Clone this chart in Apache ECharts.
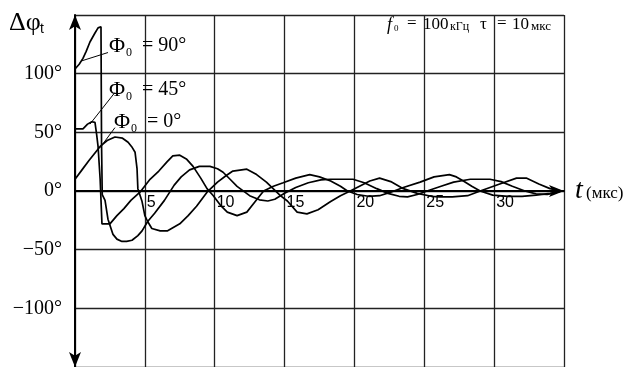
<!DOCTYPE html>
<html><head><meta charset="utf-8">
<script src="https://cdn.jsdelivr.net/npm/echarts@6/dist/echarts.min.js"></script>
<style>html,body{margin:0;padding:0;background:#fff}#c{width:637px;height:367px}</style>
</head><body><div id="c"></div>
<script>
// ---- data (t in мкс, Δφ in degrees) ----
const xTickLabels = [5, 10, 15, 20, 25, 30];
const yTickLabels = [-100, -50, 0, 50, 100];
const seriesNames = ['Φ0 = 90°', 'Φ0 = 45°', 'Φ0 = 0°'];

const phi90 = [
  [0,104],[0.3,108],[0.57,113],[0.8,119],[1.07,127],[1.4,134],[1.65,139],[1.86,140],
  [1.9,40],[1.95,-3],[2.15,-8],[2.36,-24],[2.72,-37],[3.0,-41],[3.36,-43],[3.7,-43],
  [4.08,-42],[4.5,-38],[4.8,-34],[5.2,-26],[5.7,-19],[6.4,-8],[7.1,5],[7.6,12],
  [8.2,18],[8.9,21],[9.66,21],[10.2,19],[10.6,16],[11.1,10],[11.6,4],[12.5,-4],
  [13.2,-7.5],[13.8,-8.5],[14.3,-7],[15.0,-2],[15.8,3],[16.7,7],[17.6,9.5],[18.3,10],
  [19.9,10],[20.7,7],[21.6,2],[22.4,-2],[23.2,-4.5],[23.8,-5],[24.5,-3],[25.2,0],
  [26.2,4],[27.1,7.6],[28.3,10],[29.7,10],[30.5,8],[31.3,4],[32.2,0],[33.0,-2.5],
  [33.8,-3],[34.4,-1.5],[34.8,0]
];
const phi45 = [
  [0,53],[0.3,53],[0.57,53],[0.9,57],[1.2,59],[1.43,58.5],[1.55,48],[1.65,38],
  [1.8,10],[1.93,-28],[2.2,-28],[2.5,-28],[3.0,-21],[3.5,-15],[4.0,-8],[4.65,-1],
  [5.37,10],[6.0,17],[6.6,25],[7.0,30],[7.5,30.5],[8.0,27],[8.45,21],[9.0,11],
  [9.45,2],[9.9,-4],[10.4,-12],[10.9,-18],[11.6,-21],[12.3,-18],[12.9,-9],[13.5,0],
  [14.2,4],[14.9,7],[15.8,11],[16.8,14],[17.5,12],[18.3,8.5],[19.0,4],[19.5,0],
  [20.2,-3],[21.0,-4.5],[21.8,-4],[22.6,-1],[23.5,3],[24.7,7.6],[25.7,12],[26.8,14],
  [27.3,12],[27.8,8.5],[28.4,4],[29.0,0],[29.9,-3.5],[31.0,-4.5],[32.0,-4.5],
  [33.0,-3.5],[34.0,-2],[34.8,0]
];
const phi0 = [
  [0,10],[0.5,18],[1.0,26],[1.8,38],[2.3,43],[2.86,46],[3.4,45],[3.8,41.5],[4.1,37],
  [4.3,33],[4.44,19],[4.5,2],[4.8,-9],[5.0,-21],[5.2,-26],[5.5,-32],[6.1,-34],[6.6,-34],
  [7.5,-28],[8.1,-21],[8.7,-13],[9.45,-1],[10.2,7.6],[10.8,13],[11.3,17],[12.3,18.6],
  [13.0,14],[13.7,7.6],[14.7,-4],[15.2,-8.5],[15.9,-18],[16.6,-19.5],[17.4,-16],
  [18.3,-9],[19.0,-4],[19.7,0],[21.1,8.5],[21.8,11],[22.6,8],[23.5,2],[24.5,-2],
  [25.5,-4.5],[26.1,-5],[27.0,-5],[28.1,-4],[29.0,0],[30.4,6],[31.6,11],[32.3,11],
  [33.2,6],[34.0,2],[34.8,0]
];
// pointer lines from the curve labels to the curves (data coordinates)
const ptr90 = [[2.36,118],[0.5,111]];
const ptr45 = [[2.86,84],[1.07,57]];
const ptr0  = [[2.86,54],[1.8,37]];

const chart = echarts.init(document.getElementById('c'), null, {renderer:'canvas'});
const serif = '"Liberation Serif", "DejaVu Serif", serif';
const sans = '"Liberation Sans", Arial, sans-serif';

const GRID_TOP = 15, GRID_H = 352;
const Y_MIN = -150, Y_MAX = 150;
// distance of the zero line above the grid bottom
const zeroOffset = GRID_H * (0 - Y_MIN) / (Y_MAX - Y_MIN);

function fmtY(v){
  if (yTickLabels.indexOf(v) < 0) return '';
  return (v < 0 ? '\u2212' + Math.abs(v) : String(v)) + '°';
}
function fmtX(v){ return xTickLabels.indexOf(v) < 0 ? '' : String(v); }

function mkSeries(name, data, ptr){
  return {
    name, type:'line', data, showSymbol:false, symbol:'none', smooth:false,
    lineStyle:{color:'#000', width:1.7}, z:5, animation:false,
    markLine:{
      silent:true, symbol:['none','none'], label:{show:false},
      lineStyle:{color:'#000', width:1, type:'solid'},
      data:[[{coord:ptr[0]},{coord:ptr[1]}]]
    }
  };
}

function T(text, x, y, font, extra){
  return Object.assign({type:'text', x, y, z:20, silent:true,
    style:{text, font, fill:'#000', verticalAlign:'middle', align:'left'}}, extra||{});
}

const option = {
  animation:false,
  backgroundColor:'#fff',
  grid:{left:75, right:73, top:GRID_TOP, height:GRID_H, containLabel:false, outerBoundsMode:'none'},
  xAxis:[{
    type:'value', min:0, max:35, interval:5, position:'bottom',
    axisLine:{show:false},
    axisTick:{show:false},
    axisLabel:{show:false},
    splitLine:{show:true, lineStyle:{color:'#222', width:1.3}}
  },{
    type:'value', min:0, max:35, interval:5, position:'bottom', offset:-zeroOffset,
    axisLine:{show:true, onZero:false, symbol:['none','arrow'], symbolSize:[9,15], lineStyle:{color:'#000', width:2}},
    axisTick:{show:false},
    axisLabel:{formatter:fmtX, fontFamily:sans, fontSize:16, color:'#000', align:'left', verticalAlign:'top', margin:4, padding:[0,0,0,2]},
    splitLine:{show:false}
  }],
  yAxis:{
    type:'value', min:Y_MIN, max:Y_MAX, interval:50,
    axisLine:{onZero:false, symbol:['arrow','arrow'], symbolSize:[9,15], lineStyle:{color:'#000', width:2}},
    axisTick:{show:false},
    axisLabel:{formatter:fmtY, fontFamily:serif, fontSize:20, color:'#000', margin:13},
    splitLine:{show:true, lineStyle:{color:'#222', width:1.3}}
  },
  series:[
    mkSeries(seriesNames[0], phi90, ptr90),
    mkSeries(seriesNames[1], phi45, ptr45),
    mkSeries(seriesNames[2], phi0, ptr0)
  ],
  graphic:[
    // y-axis title Δφt
    T('Δφ', 9, 23, '26px ' + serif),
    T('t', 40, 29, '14px ' + sans),
    // curve labels
    T('Φ', 109, 46, '22px ' + serif),
    T('0', 126, 53, '12px ' + serif),
    T('= 90°', 142, 46, '20px ' + serif),
    T('Φ', 109, 90, '22px ' + serif),
    T('0', 126, 97, '12px ' + serif),
    T('= 45°', 142, 90, '20px ' + serif),
    T('Φ', 114, 122, '22px ' + serif),
    T('0', 131, 129, '12px ' + serif),
    T('= 0°', 147, 122, '20px ' + serif),
    // parameters
    T('f', 387, 25, 'italic 18px ' + serif),
    T('0', 394, 29, '9px ' + serif),
    T('=', 407, 24, '17px ' + serif),
    T('100', 423, 25, '17px ' + serif),
    T('кГц', 450, 27, '12px ' + serif),
    T('τ', 480, 25, '17px ' + serif),
    T('=', 497, 24, '17px ' + serif),
    T('10', 512, 25, '17px ' + serif),
    T('мкс', 531, 27, '13px ' + serif),
    // x-axis title
    T('t', 575, 191, 'italic 28px ' + serif),
    T('(мкс)', 586, 194, '17px ' + serif)
  ]
};
chart.setOption(option);
</script></body></html>
